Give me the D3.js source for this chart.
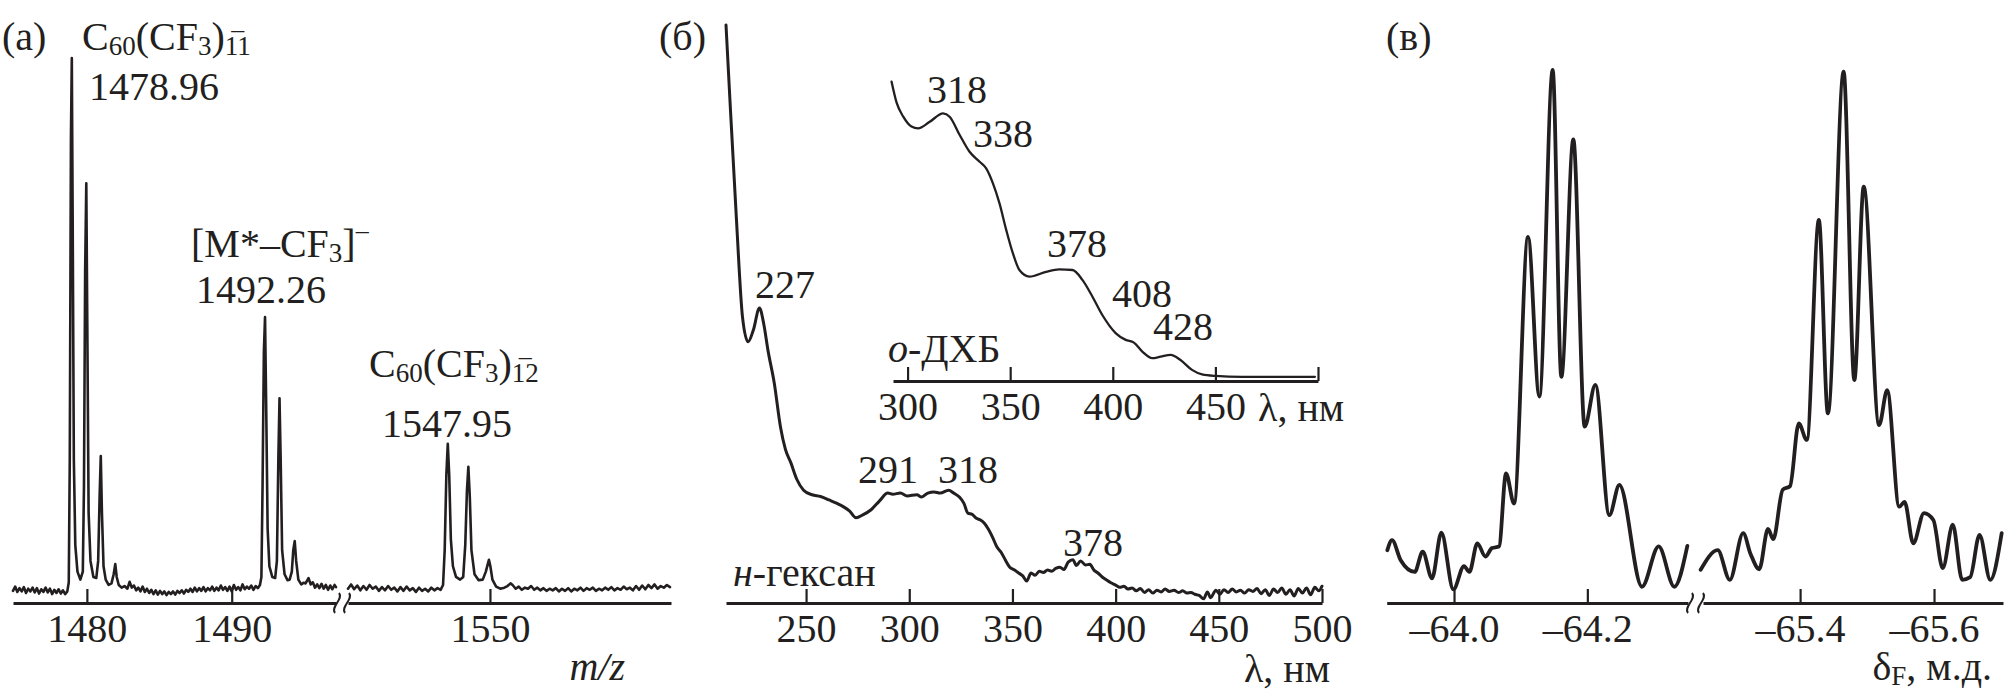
<!DOCTYPE html>
<html><head><meta charset="utf-8">
<script src="https://cdn.jsdelivr.net/npm/d3@7"></script>
<style>
body{margin:0;background:#fff}
svg{display:block}
text{font-family:"Liberation Serif","Times New Roman",serif;fill:#231f20;font-size:40px}
</style>
</head><body>
<svg id="c" width="2006" height="700"></svg>
<script>
// ---------- DATA ----------
// (а) mass spectrum, m/z vs relative intensity (%), left part of broken axis
const msLeft = [[1474.9,0.4],[1475.05,1.2],[1475.2,0.2],[1475.35,0.9],[1475.5,0.3],[1475.65,1.1],[1475.8,0.0],[1475.95,0.8],[1476.1,0.3],[1476.25,1.0],[1476.4,0.1],[1476.55,0.9],[1476.7,-0.1],[1476.85,0.7],[1477.0,0.2],[1477.15,1.0],[1477.3,0.1],[1477.45,0.8],[1477.6,-0.2],[1477.75,0.6],[1477.9,0.0],[1478.05,0.7],[1478.2,-0.1],[1478.35,0.5],[1478.5,-0.2],[1478.65,0.3],
[1478.75,2],[1478.82,25],[1478.9,85],[1478.96,100],[1479.02,70],[1479.1,25],[1479.2,9],[1479.35,4],[1479.55,2.5],[1479.72,4],[1479.8,20],[1479.88,60],[1479.96,76.6],[1480.03,50],[1480.12,15],[1480.25,6],[1480.45,3],[1480.65,2.8],[1480.78,6],[1480.88,18],[1480.96,25.6],[1481.04,15],[1481.15,5],[1481.3,2.5],[1481.5,1.5],[1481.7,1.8],[1481.85,3.5],[1481.96,5.4],[1482.06,3],[1482.2,1.5],[1482.4,1.0],[1482.6,1.3],[1482.8,0.8],[1482.95,2.1],[1483.1,1.0],[1483.25,1.4],[1483.4,0.5],[1483.55,1.0],[1483.7,0.3],[1483.85,1.2],[1484.0,0.2],[1484.15,0.8],[1484.3,0.0],[1484.45,0.6],[1484.6,-0.2],[1484.75,0.5],[1484.9,-0.3],[1485.05,0.4],[1485.2,-0.2],[1485.35,0.3],[1485.5,-0.4],[1485.65,0.2],[1485.8,-0.2],[1485.95,0.3],[1486.1,-0.3],[1486.25,0.4],[1486.4,0.0],[1486.55,0.5],[1486.7,-0.1],[1486.85,0.6],[1487.0,0.2],[1487.15,0.8],[1487.3,0.2],[1487.45,1.0],[1487.6,0.3],[1487.75,0.9],[1487.9,0.4],[1488.05,1.1],[1488.2,0.3],[1488.35,0.9],[1488.5,0.5],[1488.65,1.2],[1488.8,0.4],[1488.95,1.0],[1489.1,0.5],[1489.25,1.4],[1489.4,0.6],[1489.55,1.1],[1489.7,0.4],[1489.85,1.2],[1490.0,0.3],[1490.15,1.5],[1490.3,0.6],[1490.45,1.1],[1490.6,0.5],[1490.75,1.6],[1490.9,0.7],[1491.05,1.2],[1491.2,0.8],[1491.35,1.4],[1491.5,0.6],[1491.65,1.3],[1491.8,0.9],[1491.95,1.5],
[1492.05,3],[1492.13,20],[1492.22,45],[1492.3,51.6],[1492.38,35],[1492.48,12],[1492.6,5],[1492.8,3],[1493.0,2.8],[1493.12,6],[1493.22,25],[1493.3,36.4],[1493.38,25],[1493.48,8],[1493.65,3.5],[1493.85,2.4],[1494.0,2.5],[1494.15,4],[1494.25,8],[1494.35,9.7],[1494.45,6],[1494.6,2.5],[1494.8,1.6],[1494.95,1.9],[1495.1,1.8],[1495.3,2.8],[1495.45,1.6],[1495.6,2.0],[1495.75,1.0],[1495.9,1.6],[1496.05,0.9],[1496.2,1.7],[1496.35,0.8],[1496.5,1.5],[1496.65,0.6],[1496.8,1.4],[1496.95,0.7],[1497.1,1.5],[1497.2,1.1]];
// right part of broken axis
const msRight = [[1543.1,0.8],[1543.25,1.6],[1543.4,0.7],[1543.55,1.4],[1543.7,0.5],[1543.85,1.3],[1544.0,0.6],[1544.15,1.5],[1544.3,0.8],[1544.45,1.2],[1544.6,0.4],[1544.75,1.1],[1544.9,0.5],[1545.05,1.3],[1545.2,0.6],[1545.35,1.0],[1545.5,0.3],[1545.65,1.1],[1545.8,0.4],[1545.95,1.2],[1546.1,0.5],[1546.25,0.9],[1546.4,0.2],[1546.55,1.0],[1546.7,0.4],[1546.85,0.8],[1547.0,0.3],[1547.15,1.0],[1547.3,0.5],[1547.45,0.9],[1547.6,0.6],[1547.72,1.5],[1547.8,8],[1547.88,22],[1547.95,27.9],[1548.02,22],[1548.1,10],[1548.2,5],[1548.35,3],[1548.55,2.5],[1548.7,3],[1548.8,9],[1548.88,19],[1548.95,23.6],[1549.02,18],[1549.1,8],[1549.25,3.5],[1549.45,2.4],[1549.65,2.5],[1549.8,4],[1549.9,5.5],[1549.95,6.2],[1550.02,5],[1550.12,2.5],[1550.3,1.2],[1550.5,0.8],[1550.7,1.0],[1550.85,1.3],[1551.0,1.8],[1551.1,1.5],[1551.25,0.8],[1551.4,1.2],[1551.55,0.6],[1551.7,1.0],[1551.85,0.8],[1552.0,1.3],[1552.15,0.6],[1552.3,1.0],[1552.45,0.5],[1552.6,0.9],[1552.75,0.4],[1552.9,0.8],[1553.05,0.5],[1553.2,0.9],[1553.35,0.3],[1553.5,0.8],[1553.65,0.4],[1553.8,0.9],[1553.95,0.3],[1554.1,0.8],[1554.25,0.5],[1554.4,1.0],[1554.55,0.4],[1554.7,0.9],[1554.85,0.6],[1555.0,1.0],[1555.15,0.4],[1555.3,0.8],[1555.45,0.5],[1555.6,1.0],[1555.75,0.6],[1555.9,1.1],[1556.05,0.5],[1556.2,0.9],[1556.35,0.6],[1556.5,1.2],[1556.65,0.7],[1556.8,1.0],[1556.95,0.5],[1557.1,1.3],[1557.25,0.6],[1557.4,1.4],[1557.55,0.7],[1557.7,1.5],[1557.85,0.9],[1558.0,1.6],[1558.15,0.8],[1558.3,1.3],[1558.45,1.0],[1558.6,1.5],[1558.75,1.1]];
const msTicksLeft = [1480, 1490];
const msTicksRight = [1550];

// (б) UV-vis in n-hexane: wavelength (nm), absorbance (a.u.)
const hexane = [[211.2,1.000],[213.1,0.870],[216.2,0.666],[219.2,0.492],[221.9,0.449],[224.5,0.470],[227.4,0.508],[229.5,0.480],[231.5,0.435],[234.6,0.377],[237.6,0.301],[240,0.262],[242.7,0.238],[245.5,0.210],[248.8,0.191],[252.9,0.183],[257,0.180],[261.1,0.174],[265,0.168],[268.2,0.162],[271,0.155],[274.2,0.143],[277.5,0.148],[281.5,0.157],[285.5,0.172],[289.6,0.186],[292,0.184],[295.7,0.186],[299,0.181],[303.7,0.183],[306,0.179],[309,0.186],[312,0.188],[315,0.186],[319.1,0.191],[321.5,0.186],[324.3,0.179],[326.5,0.168],[328.4,0.151],[330.5,0.149],[332.5,0.142],[334.5,0.139],[336.5,0.133],[338.5,0.122],[340.5,0.108],[342.5,0.092],[344.5,0.083],[346.5,0.070],[348.7,0.057],[351,0.052],[353,0.047],[355,0.042],[356.9,0.033],[359,0.047],[361,0.043],[363,0.050],[365,0.048],[367,0.052],[369,0.050],[371,0.055],[373,0.057],[375,0.053],[377,0.066],[379.3,0.070],[381,0.060],[383,0.068],[385.4,0.061],[387.5,0.062],[389.5,0.052],[391.4,0.047],[393.5,0.040],[395.5,0.035],[397.7,0.030],[400,0.026],[402,0.022],[404,0.024],[406,0.019],[408,0.021],[410,0.016],[412,0.020],[414,0.013],[416,0.018],[418,0.012],[420,0.017],[422,0.014],[424,0.019],[426,0.015],[428.3,0.017],[430.5,0.013],[432.5,0.016],[434.5,0.012],[436.5,0.013],[438.4,0.010],[440.5,0.008],[442.6,0.002],[444.5,0.014],[446,0.004],[448.6,0.017],[450.5,0.010],[452.5,0.018],[454.5,0.013],[456.5,0.019],[458.5,0.014],[460.5,0.017],[462.5,0.012],[464.5,0.018],[466.5,0.015],[468.5,0.020],[470.5,0.011],[472.5,0.018],[474.5,0.008],[476.5,0.019],[478.5,0.013],[480.5,0.021],[482.5,0.010],[484.5,0.018],[486.5,0.007],[488.5,0.020],[490.5,0.012],[492.5,0.021],[494.5,0.009],[496.5,0.022],[498.5,0.016],[500,0.024]];
const hexaneTicks = [250, 300, 350, 400, 450, 500];
const hexanePeaks = ["227", "291", "318", "378"];

// (б) inset, o-dichlorobenzene
const odcb = [[292.2,0.998],[294.7,0.927],[297.9,0.881],[301.9,0.848],[305.1,0.842],[310.8,0.864],[317.3,0.892],[320.5,0.881],[325.4,0.820],[330.2,0.764],[335.1,0.731],[338.3,0.709],[341.6,0.659],[344.8,0.592],[348.1,0.503],[351.3,0.426],[354.5,0.370],[359.4,0.348],[367.5,0.364],[373.9,0.372],[380.4,0.370],[385.2,0.337],[390.1,0.281],[394.9,0.220],[401.5,0.159],[406.3,0.137],[410.3,0.128],[414.4,0.098],[419.2,0.076],[423.3,0.081],[428.2,0.087],[433,0.070],[438.6,0.037],[443.5,0.022],[450,0.017],[462.9,0.014],[498.5,0.014]];
const odcbTicks = [300, 350, 400, 450, 500];
const odcbPeaks = ["318", "338", "378", "408", "428"];

// (в) 19F NMR: chemical shift (ppm), intensity (%)
const nmrLeft = [[-63.900,9.4],[-63.907,11.3],[-63.920,7.5],[-63.941,5.3],[-63.953,9.1],[-63.967,4.1],[-63.981,12.7],[-63.999,2.0],[-64.015,6.4],[-64.023,5.3],[-64.035,10.7],[-64.047,8.2],[-64.057,9.8],[-64.0675,10.1],[-64.078,23.9],[-64.090,18.2],[-64.111,68.5],[-64.128,38.4],[-64.148,100],[-64.161,42.1],[-64.179,86.9],[-64.196,32.7],[-64.212,40.6],[-64.233,16.0],[-64.248,21.7],[-64.282,2.5],[-64.307,10.1],[-64.3305,2.5],[-64.350,10.2]];
const nmrRight = [[-65.2515,5.7],[-65.277,9.4],[-65.295,3.8],[-65.315,12.6],[-65.326,8.7],[-65.339,5.8],[-65.352,13.4],[-65.360,11.5],[-65.374,20.8],[-65.385,21.5],[-65.398,33.3],[-65.410,30.2],[-65.428,71.7],[-65.4415,35.2],[-65.465,99.7],[-65.481,41.5],[-65.495,78.0],[-65.518,33.0],[-65.530,39.6],[-65.548,17.6],[-65.556,18.5],[-65.569,10.7],[-65.585,16.4],[-65.599,15.1],[-65.613,6.0],[-65.628,14.2],[-65.642,3.8],[-65.654,4.3],[-65.668,12.3],[-65.684,3.8],[-65.701,12.6]];
const nmrTicksLeft = [-64.0, -64.2];
const nmrTicksRight = [-65.4, -65.6];

// ---------- DRAWING ----------
const INK = "#231f20";
const svg = d3.select("#c");

function drawAxis(scale, ticks, fmt, y) {
  const ax = d3.axisBottom(scale).tickValues(ticks).tickFormat(fmt)
    .tickSize(-14).tickSizeOuter(0).tickPadding(11);
  const g = svg.append("g").attr("transform", `translate(0,${y})`).call(ax);
  g.attr("font-family", null).attr("font-size", null);
  g.select(".domain").attr("stroke", INK).attr("stroke-width", 3);
  g.selectAll(".tick line").attr("stroke", INK).attr("stroke-width", 2.2);
  g.selectAll(".tick text").attr("fill", INK).style("font-size", "40px");
  return g;
}
function drawLine(data, xs, ys, width, curve) {
  svg.append("path").datum(data)
    .attr("fill", "none").attr("stroke", INK).attr("stroke-width", width)
    .attr("stroke-linejoin", "round").attr("stroke-linecap", "round")
    .attr("d", d3.line().x(d => xs(d[0])).y(d => ys(d[1])).curve(curve));
}
function breakMark(x, y) {
  svg.append("path")
    .attr("d", `M${x + 2},${y - 10} C${x + 7},${y - 4} ${x - 7},${y + 4} ${x - 2},${y + 10}`)
    .attr("fill", "none").attr("stroke", INK).attr("stroke-width", 2);
}
function rich(x, y, parts, anchor) {
  const t = svg.append("text").attr("x", x).attr("y", y).attr("text-anchor", anchor || "start");
  let shift = 0;
  parts.forEach(p => {
    const o = typeof p === "string" ? {t: p} : p;
    const target = o.sub ? 5 : (o.sup ? -18 : 0);
    const ts = t.append("tspan").text(o.t).attr("dy", target - shift);
    if (o.sub) ts.style("font-size", "27px");
    if (o.sup) ts.style("font-size", "26px");
    if (o.it) ts.style("font-style", "italic");
    shift = target;
  });
  return t;
}
function stackedCharge(t, idx, len, y) {
  const n = t.node();
  const x0 = n.getStartPositionOfChar(idx).x;
  const x1 = n.getEndPositionOfChar(idx + len - 1).x;
  svg.append("text").attr("x", (x0 + x1) / 2).attr("y", y).attr("text-anchor", "middle")
    .style("font-size", "26px").text("–");
}

// ---- (а) mass spectrum ----
const msXL = d3.scaleLinear().domain([1474.9, 1497.2]).range([13, 336]);
const msXR = d3.scaleLinear().domain([1543.1, 1558.8]).range([348, 671]);
const msY = d3.scaleLinear().domain([0, 100]).range([593, 58]);
drawAxis(msXL, msTicksLeft, d3.format("d"), 603);
drawAxis(msXR, msTicksRight, d3.format("d"), 603);
breakMark(337, 603); breakMark(347, 603);
drawLine(msLeft, msXL, msY, 2.6, d3.curveLinear);
drawLine(msRight, msXR, msY, 2.6, d3.curveLinear);

rich(2, 50, ["(а)"]);
const l1 = rich(82, 50, ["C", {t: "60", sub: 1}, "(CF", {t: "3", sub: 1}, ")", {t: "11", sub: 1}]);
stackedCharge(l1, 8, 2, 38);
rich(89, 100, ["1478.96"]);
rich(191, 257, ["[M*–CF", {t: "3", sub: 1}, "]", {t: "–", sup: 1}]);
rich(196, 303, ["1492.26"]);
const l2 = rich(369, 377, ["C", {t: "60", sub: 1}, "(CF", {t: "3", sub: 1}, ")", {t: "12", sub: 1}]);
stackedCharge(l2, 8, 2, 365);
rich(382, 437, ["1547.95"]);
rich(625, 680, [{t: "m/z", it: 1}], "end");

// ---- (б) UV-vis ----
const hxX = d3.scaleLinear().domain([211.2, 500]).range([726, 1322]);
const hxY = d3.scaleLinear().domain([0, 1]).range([600, 25]);
drawAxis(hxX, hexaneTicks, d3.format("d"), 603);
drawLine(hexane, hxX, hxY, 3, d3.curveMonotoneX);

const inX = d3.scaleLinear().domain([292.9, 500]).range([893, 1318]);
const inY = d3.scaleLinear().domain([0, 1]).range([381, 81]);
drawAxis(inX, odcbTicks, d => d === 500 ? "" : d3.format("d")(d), 381);
drawLine(odcb, inX, inY, 2.3, d3.curveMonotoneX);

rich(659, 50, ["(б)"]);
const hxPos = [[755, 298], [858, 483], [938, 483], [1063, 556]];
hexanePeaks.forEach((s, i) => rich(hxPos[i][0], hxPos[i][1], [s]));
rich(733, 586, [{t: "н", it: 1}, "-гексан"]);
rich(1330, 682, ["λ, нм"], "end");
const inPos = [[927, 103], [973, 147], [1047, 257], [1112, 307], [1153, 340]];
odcbPeaks.forEach((s, i) => rich(inPos[i][0], inPos[i][1], [s]));
rich(888, 362, [{t: "о", it: 1}, "-ДХБ"]);
rich(1258, 421, ["λ, нм"]);

// ---- (в) NMR ----
const nmXL = d3.scaleLinear().domain([-63.899, -64.351]).range([1386.7, 1688]);
const nmXR = d3.scaleLinear().domain([-65.255, -65.703]).range([1703, 2003]);
const nmY = d3.scaleLinear().domain([0, 100]).range([600, 70]);
const nmFmt = d => "–" + Math.abs(d).toFixed(1);
drawAxis(nmXL, nmrTicksLeft, nmFmt, 603);
drawAxis(nmXR, nmrTicksRight, nmFmt, 603);
breakMark(1690, 603); breakMark(1701, 603);
drawLine(nmrLeft, nmXL, nmY, 3.8, d3.curveMonotoneX);
drawLine(nmrRight, nmXR, nmY, 3.8, d3.curveMonotoneX);

rich(1386, 50, ["(в)"]);
rich(1992, 680, ["δ", {t: "F", sub: 1}, ", м.д."], "end");
</script>
</body></html>
